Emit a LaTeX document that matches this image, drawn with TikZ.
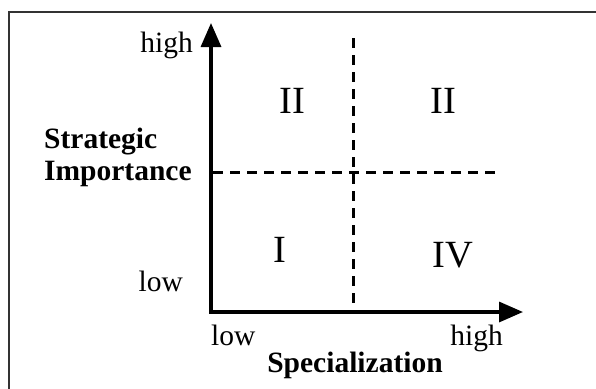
\documentclass[tikz,border=0pt]{standalone}
\usepackage{fontspec}
\setmainfont{Liberation Serif}
\usetikzlibrary{arrows.meta}
\begin{document}
\begin{tikzpicture}[x=1pt,y=-1pt,
  lbl/.style={inner sep=0pt,font=\fontsize{29.5}{34}\selectfont},
  blbl/.style={inner sep=0pt,font=\fontsize{29.5}{34}\selectfont\bfseries},
  quad/.style={inner sep=0pt,font=\fontsize{38.5}{44}\selectfont},
  axis/.style={line width=3.3pt,-{Triangle[length=24pt,width=20pt]}},
  divider/.style={line width=3.5pt,dash pattern=on 10pt off 7pt}]
\useasboundingbox (0,0) rectangle (596,388);
\clip (0,0) rectangle (596,388);
\draw[line width=2pt,black!80] (9,12) rectangle (610,400);
\coordinate (O) at (211,312);
\coordinate (Ytip) at (211,23);
\coordinate (Xtip) at (523,312);
\coordinate (Vtop) at (353.5,38);
\coordinate (Vbot) at (353.5,312);
\coordinate (Hleft) at (213,172.5);
\coordinate (Hright) at (500,172.5);
\draw[divider] (Vtop) -- (Vbot);
\draw[divider] (Hleft) -- (Hright);
\draw[axis] (O) -- (Ytip);
\draw[axis] ([xshift=-1.65pt]O) -- (Xtip);
\node[lbl,anchor=base east] (yhigh) at (193,52) {high};
\node[lbl,anchor=base east] (ylow) at (183,291) {low};
\node[blbl,anchor=base west] (ytitle1) at (44,148) {Strategic};
\node[blbl,anchor=base west] (ytitle2) at (44,180) {Importance};
\node[lbl,anchor=base west] (xlow) at (211,345) {low};
\node[lbl,anchor=base east] (xhigh) at (503,345) {high};
\node[blbl,anchor=base] (xtitle) at (355,372) {Specialization};
\node[quad,anchor=base] (q1) at (292,113) {II};
\node[quad,anchor=base] (q2) at (443,113) {II};
\node[quad,anchor=base] (q3) at (280,262) {I};
\node[quad,anchor=base] (q4) at (453,267) {IV};
\end{tikzpicture}
\end{document}
